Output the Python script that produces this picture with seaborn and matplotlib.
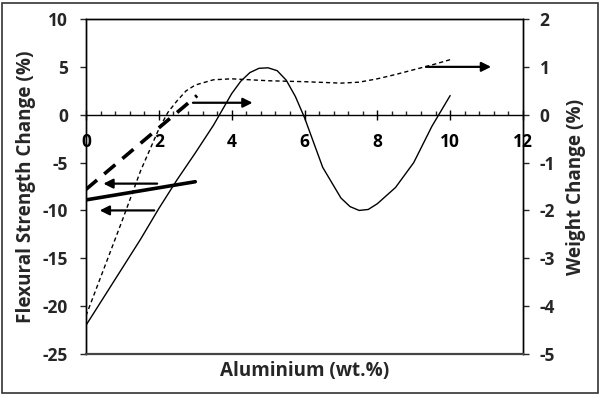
import numpy as np
import pandas as pd
import seaborn as sns
import matplotlib.pyplot as plt
from matplotlib.patches import Rectangle
from matplotlib.ticker import MultipleLocator

# flexural strength change (%), left axis
strength_x = [0, 0.5, 1.0, 1.5, 2.0, 2.5, 3.0, 3.5, 4.0, 4.25, 4.5, 4.75, 5.0, 5.25, 5.5, 5.75,
              6.0, 6.5, 7.0, 7.25, 7.5, 7.75, 8.0, 8.5, 9.0, 9.5, 10.0]
strength_y = [-22, -19, -16, -13, -9.8, -6.8, -4.0, -1.1, 2.2, 3.5, 4.4, 4.85, 4.9, 4.6, 3.6, 1.9,
              -0.3, -5.5, -8.7, -9.6, -10.0, -9.9, -9.3, -7.6, -5.0, -1.2, 2.0]

# weight change (%), right axis
weight_x = [0, 0.5, 1.0, 1.5, 2.0, 2.25, 2.5, 2.75, 3.0, 3.5, 4.0, 5.0, 6.0, 7.0, 7.5, 8.0, 8.5, 9.0, 9.5, 10.0]
weight_y = [-4.2, -3.2, -2.2, -1.17, -0.3, 0.05, 0.29, 0.5, 0.62, 0.73, 0.75, 0.71, 0.69, 0.66, 0.68, 0.75, 0.84, 0.94, 1.04, 1.15]

# two short straight lines near the origin (left axis)
trend_x = [0, 3.05]
trend_dashed_y = [-7.8, 2.0]
trend_solid_x = [0, 3.0]
trend_solid_y = [-8.9, -7.0]

# arrows: (start x, end x, y)
left_arrows = [(2.03, 0.4, -7.2), (1.95, 0.3, -10.0)]
right_arrows = [(2.86, 4.65, 0.25), (9.26, 11.2, 1.0)]

x_ticks = [0, 2, 4, 6, 8, 10, 12]
left_ticks = [10, 5, 0, -5, -10, -15, -20, -25]
right_ticks = [2, 1, 0, -1, -2, -3, -4, -5]

sns.set_style("white")
plt.rcParams['font.family'] = ['Open Sans', 'DejaVu Sans']
plt.rcParams['font.weight'] = 'bold'

fig = plt.figure(figsize=(6.01, 3.99), dpi=100)
ax = fig.add_axes([86 / 601, 1 - 354 / 399, 437 / 601, 335 / 399])
ax2 = ax.twinx()

df_s = pd.DataFrame({'x': strength_x, 'y': strength_y})
df_w = pd.DataFrame({'x': weight_x, 'y': weight_y})
df_td = pd.DataFrame({'x': trend_x, 'y': trend_dashed_y})
df_ts = pd.DataFrame({'x': trend_solid_x, 'y': trend_solid_y})

sns.lineplot(data=df_s, x='x', y='y', ax=ax, color='black', lw=1.0, sort=False)
sns.lineplot(data=df_td, x='x', y='y', ax=ax, color='black', lw=2.6, dashes=False,
             linestyle=(0, (4, 2.6)))
sns.lineplot(data=df_ts, x='x', y='y', ax=ax, color='black', lw=2.6)
sns.lineplot(data=df_w, x='x', y='y', ax=ax2, color='black', lw=1.0, linestyle=(0, (3, 2.2)))

for x0, x1, y in left_arrows:
    ax.annotate('', xy=(x1, y), xytext=(x0, y),
                arrowprops=dict(arrowstyle='-|>', lw=1.6, color='black', mutation_scale=14))
for x0, x1, y in right_arrows:
    ax2.annotate('', xy=(x1, y), xytext=(x0, y),
                 arrowprops=dict(arrowstyle='-|>', lw=1.6, color='black', mutation_scale=14))

ax.set_xlim(0, 12)
ax.set_ylim(-25, 10)
ax2.set_ylim(-5, 2)

ax.spines['bottom'].set_position(('data', 0))
for ax_ in (ax, ax2):
    for s in ax_.spines.values():
        s.set_color('black')
        s.set_linewidth(1.0)
ax2.spines['bottom'].set_linewidth(1.6)
ax2.spines['bottom'].set_color('#444444')

tick_font = dict(fontsize=12.5, fontweight='bold')
ax.set_xticks(x_ticks)
ax.set_xticklabels([str(t) for t in x_ticks], **tick_font)
ax.xaxis.set_minor_locator(MultipleLocator(0.4))
ax.tick_params(axis='x', which='major', direction='inout', length=7, width=1, pad=10, colors='black',
               bottom=True)
ax.tick_params(axis='x', which='minor', direction='in', length=3, width=1, bottom=True)

ax.set_yticks(left_ticks)
ax.set_yticklabels([str(t) for t in left_ticks], **tick_font)
ax.tick_params(axis='y', direction='out', length=4.5, width=1, pad=8.5, left=True)
ax2.set_yticks(right_ticks)
ax2.set_yticklabels([str(t) for t in right_ticks], **tick_font)
ax2.tick_params(axis='y', direction='out', length=4.5, width=1, pad=7.5, right=True)

label_font = dict(fontsize=13.6, fontweight='bold')
ax.set_xlabel('Aluminium (wt.%)', **label_font)
ax.set_ylabel('Flexural Strength Change (%)', **label_font)
ax2.set_ylabel('Weight Change (%)', **label_font)
ax.xaxis.set_label_coords(0.5, -0.021)
ax.yaxis.set_label_coords(-0.114, 0.5)
ax2.yaxis.set_label_coords(1.098, 0.5)

fig.add_artist(Rectangle((2 / 601, 1 - 393 / 399), 596 / 601, 390 / 399, transform=fig.transFigure,
                         fill=False, lw=1.2, edgecolor='#333333'))

fig.savefig('out.png', dpi=100)
